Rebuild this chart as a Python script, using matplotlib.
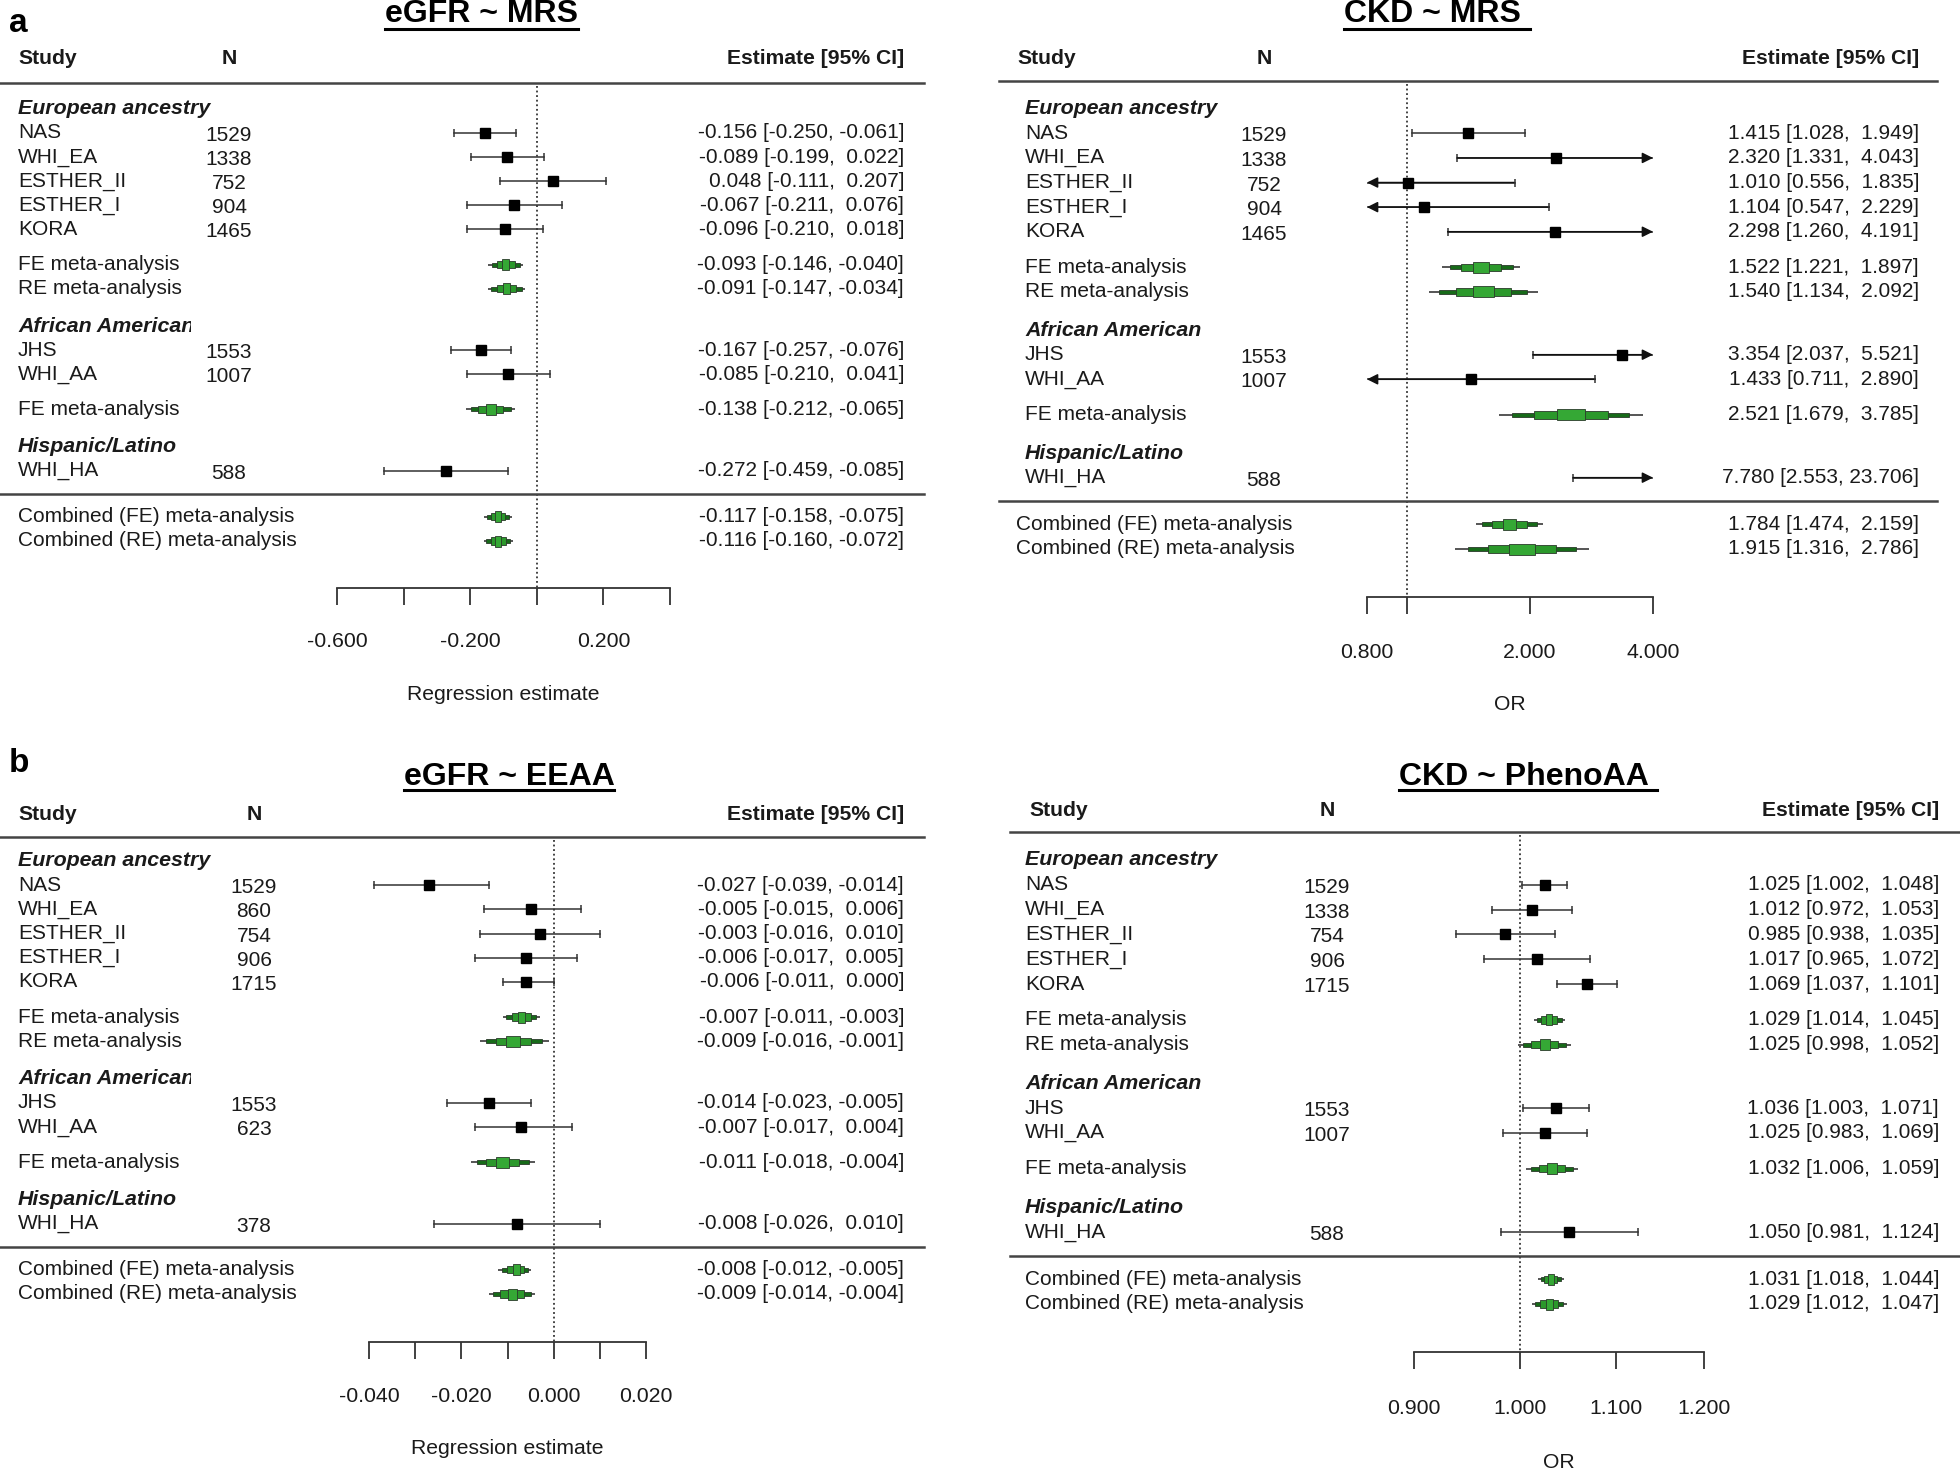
import numpy as np
import matplotlib
matplotlib.use('Agg')
import matplotlib.pyplot as plt
from matplotlib.lines import Line2D
from matplotlib.patches import Rectangle
from matplotlib.transforms import Affine2D, Bbox
from matplotlib.ticker import FixedLocator, NullLocator

plt.rcParams['font.family'] = ['Liberation Sans', 'DejaVu Sans']

W, H = 1960, 1471

studies = ['NAS', 'WHI_EA', 'ESTHER_II', 'ESTHER_I', 'KORA', 'JHS', 'WHI_AA', 'WHI_HA']
groups = ['European ancestry', 'African American', 'Hispanic/Latino']
meta_labels = ['FE meta-analysis', 'RE meta-analysis', 'FE meta-analysis',
               'Combined (FE) meta-analysis', 'Combined (RE) meta-analysis']

# eGFR ~ MRS
egfr_mrs_n = [1529, 1338, 752, 904, 1465, 1553, 1007, 588]
egfr_mrs_est = [-0.156, -0.089, 0.048, -0.067, -0.096, -0.167, -0.085, -0.272]
egfr_mrs_lo = [-0.250, -0.199, -0.111, -0.211, -0.210, -0.257, -0.210, -0.459]
egfr_mrs_hi = [-0.061, 0.022, 0.207, 0.076, 0.018, -0.076, 0.041, -0.085]
egfr_mrs_meta_est = [-0.093, -0.091, -0.138, -0.117, -0.116]
egfr_mrs_meta_lo = [-0.146, -0.147, -0.212, -0.158, -0.160]
egfr_mrs_meta_hi = [-0.040, -0.034, -0.065, -0.075, -0.072]

# CKD ~ MRS
ckd_mrs_n = [1529, 1338, 752, 904, 1465, 1553, 1007, 588]
ckd_mrs_est = [1.415, 2.320, 1.010, 1.104, 2.298, 3.354, 1.433, 7.780]
ckd_mrs_lo = [1.028, 1.331, 0.556, 0.547, 1.260, 2.037, 0.711, 2.553]
ckd_mrs_hi = [1.949, 4.043, 1.835, 2.229, 4.191, 5.521, 2.890, 23.706]
ckd_mrs_meta_est = [1.522, 1.540, 2.521, 1.784, 1.915]
ckd_mrs_meta_lo = [1.221, 1.134, 1.679, 1.474, 1.316]
ckd_mrs_meta_hi = [1.897, 2.092, 3.785, 2.159, 2.786]

# eGFR ~ EEAA
egfr_eeaa_n = [1529, 860, 754, 906, 1715, 1553, 623, 378]
egfr_eeaa_est = [-0.027, -0.005, -0.003, -0.006, -0.006, -0.014, -0.007, -0.008]
egfr_eeaa_lo = [-0.039, -0.015, -0.016, -0.017, -0.011, -0.023, -0.017, -0.026]
egfr_eeaa_hi = [-0.014, 0.006, 0.010, 0.005, 0.000, -0.005, 0.004, 0.010]
egfr_eeaa_meta_est = [-0.007, -0.009, -0.011, -0.008, -0.009]
egfr_eeaa_meta_lo = [-0.011, -0.016, -0.018, -0.012, -0.014]
egfr_eeaa_meta_hi = [-0.003, -0.001, -0.004, -0.005, -0.004]

# CKD ~ PhenoAA
ckd_pheno_n = [1529, 1338, 754, 906, 1715, 1553, 1007, 588]
ckd_pheno_est = [1.025, 1.012, 0.985, 1.017, 1.069, 1.036, 1.025, 1.050]
ckd_pheno_lo = [1.002, 0.972, 0.938, 0.965, 1.037, 1.003, 0.983, 0.981]
ckd_pheno_hi = [1.048, 1.053, 1.035, 1.072, 1.101, 1.071, 1.069, 1.124]
ckd_pheno_meta_est = [1.029, 1.025, 1.032, 1.031, 1.029]
ckd_pheno_meta_lo = [1.014, 0.998, 1.006, 1.018, 1.012]
ckd_pheno_meta_hi = [1.045, 1.052, 1.059, 1.044, 1.047]

# row layout (row units, top to bottom)
group_rows = [0, 9, 14]
study_rows = [1, 2, 3, 4, 5, 10, 11, 15]
meta_rows = [6.45, 7.45, 12.45, 16.9, 17.9]
sep_row = 15.95

panels = [
    dict(letter='a', letter_xy=(9, 32), title='eGFR ~ MRS', title_xy=(481, 22), ul_y=29,
         hdr_x=18, row_x=18, comb_x=18, n_x=229, est_x=904, hdr_y=59, hdr_line_y=83, line_x=(0, 924),
         row0=108.75, rowend=541, ax_x=(337, 670), ax_y=(0, 735), xlim=(-0.6, 0.4), log=False,
         ticks=[-0.6, -0.4, -0.2, 0.0, 0.2, 0.4], ticklabels=['-0.600', '', '-0.200', '', '0.200', ''],
         null=0.0, axis_y=588, ticklab_y=642, xlabel='Regression estimate', xlabel_y=695, clip_x=191,
         n=egfr_mrs_n, est=egfr_mrs_est, lo=egfr_mrs_lo, hi=egfr_mrs_hi,
         m_est=egfr_mrs_meta_est, m_lo=egfr_mrs_meta_lo, m_hi=egfr_mrs_meta_hi),
    dict(letter=None, title='CKD ~ MRS ', title_xy=(1437, 22), ul_y=29,
         hdr_x=1017, row_x=1025, comb_x=1016, n_x=1264, est_x=1919, hdr_y=58, hdr_line_y=81,
         line_x=(999, 1937),
         row0=108.75, rowend=549, ax_x=(1367, 1653), ax_y=(0, 735), xlim=(0.8, 4.0), log=True,
         ticks=[0.8, 1.0, 2.0, 4.0], ticklabels=['0.800', '', '2.000', '4.000'],
         null=1.0, axis_y=597, ticklab_y=653, xlabel='OR', xlabel_y=705, clip_x=None,
         n=ckd_mrs_n, est=ckd_mrs_est, lo=ckd_mrs_lo, hi=ckd_mrs_hi,
         m_est=ckd_mrs_meta_est, m_lo=ckd_mrs_meta_lo, m_hi=ckd_mrs_meta_hi),
    dict(letter='b', letter_xy=(9, 772), title='eGFR ~ EEAA', title_xy=(509, 785), ul_y=790,
         hdr_x=18, row_x=18, comb_x=18, n_x=254, est_x=904, hdr_y=815, hdr_line_y=837, line_x=(0, 924),
         row0=861, rowend=1294, ax_x=(369, 646), ax_y=(735, 1471), xlim=(-0.04, 0.02), log=False,
         ticks=[-0.04, -0.03, -0.02, -0.01, 0.0, 0.01, 0.02],
         ticklabels=['-0.040', '', '-0.020', '', '0.000', '', '0.020'],
         null=0.0, axis_y=1342, ticklab_y=1397, xlabel='Regression estimate', xlabel_y=1448, clip_x=191,
         n=egfr_eeaa_n, est=egfr_eeaa_est, lo=egfr_eeaa_lo, hi=egfr_eeaa_hi,
         m_est=egfr_eeaa_meta_est, m_lo=egfr_eeaa_meta_lo, m_hi=egfr_eeaa_meta_hi),
    dict(letter=None, title='CKD ~ PhenoAA ', title_xy=(1528, 785), ul_y=790,
         hdr_x=1029, row_x=1025, comb_x=1025, n_x=1327, est_x=1939, hdr_y=811, hdr_line_y=832,
         line_x=(1010, 1960),
         row0=860, rowend=1304, ax_x=(1414, 1704), ax_y=(735, 1471), xlim=(0.9, 1.2), log=True,
         ticks=[0.9, 1.0, 1.1, 1.2], ticklabels=['0.900', '1.000', '1.100', '1.200'],
         null=1.0, axis_y=1352, ticklab_y=1408, xlabel='OR', xlabel_y=1462, clip_x=None,
         n=ckd_pheno_n, est=ckd_pheno_est, lo=ckd_pheno_lo, hi=ckd_pheno_hi,
         m_est=ckd_pheno_meta_est, m_lo=ckd_pheno_meta_lo, m_hi=ckd_pheno_meta_hi),
]

TXT = '#1a1a1a'
FS = 15
FS_HDR = 15.2
FS_GRP = 15.4

fig = plt.figure(figsize=(W / 100, H / 100), dpi=100)
T = Affine2D().scale(1.0 / W, -1.0 / H).translate(0, 1) + fig.transFigure


def fmt(e, l, h):
    return f"{e:.3f} [{l:.3f}, {h:6.3f}]"


def summary_shape(ax, e, l, h, r, rh, log):
    # stepped diamond: thin line + nested bands
    ax.plot([l, h], [r, r], color='#555555', lw=1.4, zorder=3, solid_capstyle='butt')
    c, a, b = (np.log(e), np.log(l), np.log(h)) if log else (e, l, h)
    for frac, half_px, col in [(0.81, 2.0, '#176a19'), (0.51, 3.6, '#2b982b'), (0.2, 5.5, '#35a835')]:
        left, right = c - frac * (c - a), c + frac * (b - c)
        if log:
            left, right = np.exp(left), np.exp(right)
        hh = half_px / rh
        ax.add_patch(Rectangle((left, r - hh), right - left, 2 * hh, facecolor=col,
                               edgecolor='#2a3a2a', lw=0.6, zorder=4))


renderer = fig.canvas.get_renderer()

for p in panels:
    rh = (p['rowend'] - p['row0']) / meta_rows[-1]
    row0 = p['row0']

    def ypx(r):
        return row0 + r * rh

    def prow(y):
        return (y - row0) / rh

    ax = fig.add_axes([p['ax_x'][0] / W, 1 - p['ax_y'][1] / H,
                       (p['ax_x'][1] - p['ax_x'][0]) / W, (p['ax_y'][1] - p['ax_y'][0]) / H])
    ax.patch.set_alpha(0)
    if p['log']:
        ax.set_xscale('log')
    ax.set_xlim(*p['xlim'])
    ax.set_ylim(prow(p['ax_y'][1]), prow(p['ax_y'][0]))
    for s in ['top', 'left', 'right']:
        ax.spines[s].set_visible(False)
    ax.spines['bottom'].set_position(('data', prow(p['axis_y'])))
    ax.spines['bottom'].set_bounds(p['xlim'][0], p['xlim'][1])
    ax.spines['bottom'].set_color('#333333')
    ax.spines['bottom'].set_linewidth(1.3)
    ax.xaxis.set_major_locator(FixedLocator(p['ticks']))
    ax.xaxis.set_minor_locator(NullLocator())
    ax.tick_params(axis='x', direction='out', length=12, width=1.3, color='#333333', labelbottom=False)
    ax.set_yticks([])
    for v, lab in zip(p['ticks'], p['ticklabels']):
        ax.text(v, prow(p['ticklab_y']), lab, ha='center', va='center', fontsize=15.3, color=TXT)
    ax.text(np.sqrt(p['xlim'][0] * p['xlim'][1]) if p['log'] else np.mean(p['xlim']),
            prow(p['xlabel_y']), p['xlabel'], ha='center', va='center', fontsize=15.2, color=TXT)

    # reference line
    ax.plot([p['null'], p['null']], [prow(p['hdr_line_y'] + 3), prow(p['axis_y'])],
            color='#111111', lw=1.1, ls=(0, (1.2, 1.8)), zorder=1)

    # titles and headers
    if p['letter']:
        fig.text(*p['letter_xy'], p['letter'], transform=T, fontsize=24, fontweight='bold',
                 ha='left', va='baseline', color='black')
    t = fig.text(*p['title_xy'], p['title'], transform=T, fontsize=23, fontweight='bold',
                 ha='center', va='baseline', color='black')
    bb = t.get_window_extent(renderer=renderer)
    fig.add_artist(Line2D([bb.x0, bb.x1], [p['ul_y'], p['ul_y']], transform=T, color='black', lw=2.2))

    fig.text(p['hdr_x'], p['hdr_y'], 'Study', transform=T, fontsize=FS_HDR, fontweight='bold',
             ha='left', va='center', color=TXT)
    fig.text(p['n_x'], p['hdr_y'], 'N', transform=T, fontsize=FS_HDR, fontweight='bold',
             ha='center', va='center', color=TXT)
    fig.text(p['est_x'], p['hdr_y'], 'Estimate [95% CI]', transform=T, fontsize=FS_HDR,
             fontweight='bold', ha='right', va='center', color=TXT)
    for yl in [p['hdr_line_y'], ypx(sep_row)]:
        fig.add_artist(Line2D(list(p['line_x']), [yl, yl], transform=T, color='#444444', lw=1.8))

    # group headers
    for g, r in zip(groups, group_rows):
        gt = fig.text(p['row_x'], ypx(r), g, transform=T, fontsize=FS_GRP, fontweight='bold',
                      fontstyle='italic', ha='left', va='center', color=TXT)
        if p['clip_x'] is not None and g == 'African American':
            gt.set_clip_box(Bbox([[0, 0], [p['clip_x'], H]]))
            gt.set_clip_on(True)

    # studies
    xmin, xmax = p['xlim']
    for i, r in enumerate(study_rows):
        e, l, h = p['est'][i], p['lo'][i], p['hi'][i]
        fig.text(p['row_x'], ypx(r), studies[i], transform=T, fontsize=FS, ha='left', va='center', color=TXT)
        fig.text(p['n_x'], ypx(r) + 2.5, str(p['n'][i]), transform=T, fontsize=FS, ha='center',
                 va='center', color=TXT)
        fig.text(p['est_x'], ypx(r), fmt(e, l, h), transform=T, fontsize=FS, ha='right',
                 va='center', color=TXT)
        a, b = max(l, xmin), min(h, xmax)
        ax.plot([a, b], [r, r], color='#333333', lw=1.1, zorder=3)
        if l >= xmin:
            ax.plot([l], [r], marker='|', ms=6, mew=1.1, color='#333333', zorder=3)
        else:
            ax.annotate('', xy=(xmin, r), xytext=(b, r),
                        arrowprops=dict(arrowstyle='-|>', color='#111111', lw=1.1,
                                        mutation_scale=16, shrinkA=0, shrinkB=0))
        if h <= xmax:
            ax.plot([h], [r], marker='|', ms=6, mew=1.1, color='#333333', zorder=3)
        else:
            ax.annotate('', xy=(xmax, r), xytext=(a, r),
                        arrowprops=dict(arrowstyle='-|>', color='#111111', lw=1.1,
                                        mutation_scale=16, shrinkA=0, shrinkB=0))
        if xmin <= e <= xmax:
            ax.plot([e], [r], marker='s', ms=6.5, color='black', zorder=5)

    # meta-analyses
    for i, r in enumerate(meta_rows):
        e, l, h = p['m_est'][i], p['m_lo'][i], p['m_hi'][i]
        lx = p['comb_x'] if i >= 3 else p['row_x']
        fig.text(lx, ypx(r), meta_labels[i], transform=T, fontsize=FS, ha='left',
                 va='center', color=TXT)
        fig.text(p['est_x'], ypx(r), fmt(e, l, h), transform=T, fontsize=FS, ha='right',
                 va='center', color=TXT)
        summary_shape(ax, e, l, h, r, rh, p['log'])

fig.savefig('out.png', dpi=100)
